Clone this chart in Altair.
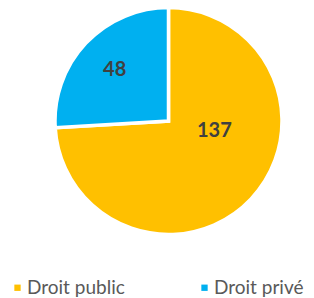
import altair as alt
import pandas as pd

categories = ["Droit public", "Droit privé"]
values = [137, 48]
colors = ["#FFC000", "#00B0F0"]

df = pd.DataFrame({"cat": categories, "value": values, "idx": list(range(len(categories)))})

base = alt.Chart(df).encode(
    theta=alt.Theta("value:Q", stack=True),
    order=alt.Order("idx:Q"),
)

arcs = base.mark_arc(outerRadius=113.5, stroke="white", strokeWidth=3.5, x=160.5, y=113).encode(
    color=alt.Color(
        "cat:N",
        scale=alt.Scale(domain=categories, range=colors),
        sort=categories,
        legend=alt.Legend(
            title=None,
            orient="none",
            direction="horizontal",
            legendX=0,
            legendY=270,
            symbolType="square",
            symbolSize=40,
            symbolStrokeWidth=0,
            labelFont="Lato",
            labelFontSize=19,
            labelColor="#595959",
            labelOffset=0,
            columnPadding=70,
            padding=0,
            labelLimit=200,
        ),
    )
)

text_style = dict(radius=74, x=160.5, y=113, font="Lato", fontSize=20, fontWeight="bold", color="#404040")

lab_pub = base.mark_text(dx=-8, dy=-41, **text_style).encode(
    text=alt.condition(alt.datum.cat == "Droit public", "value:Q", alt.value(""))
)

lab_priv = base.mark_text(**text_style).encode(
    text=alt.condition(alt.datum.cat == "Droit privé", "value:Q", alt.value(""))
)

chart = alt.layer(arcs, lab_pub, lab_priv).properties(
    width=298, height=290, autosize=alt.AutoSizeParams(type="none"), padding=0
).configure_view(stroke=None).configure(font="Lato")

chart.save("out.html", embed_options={"renderer": "svg", "actions": False})
